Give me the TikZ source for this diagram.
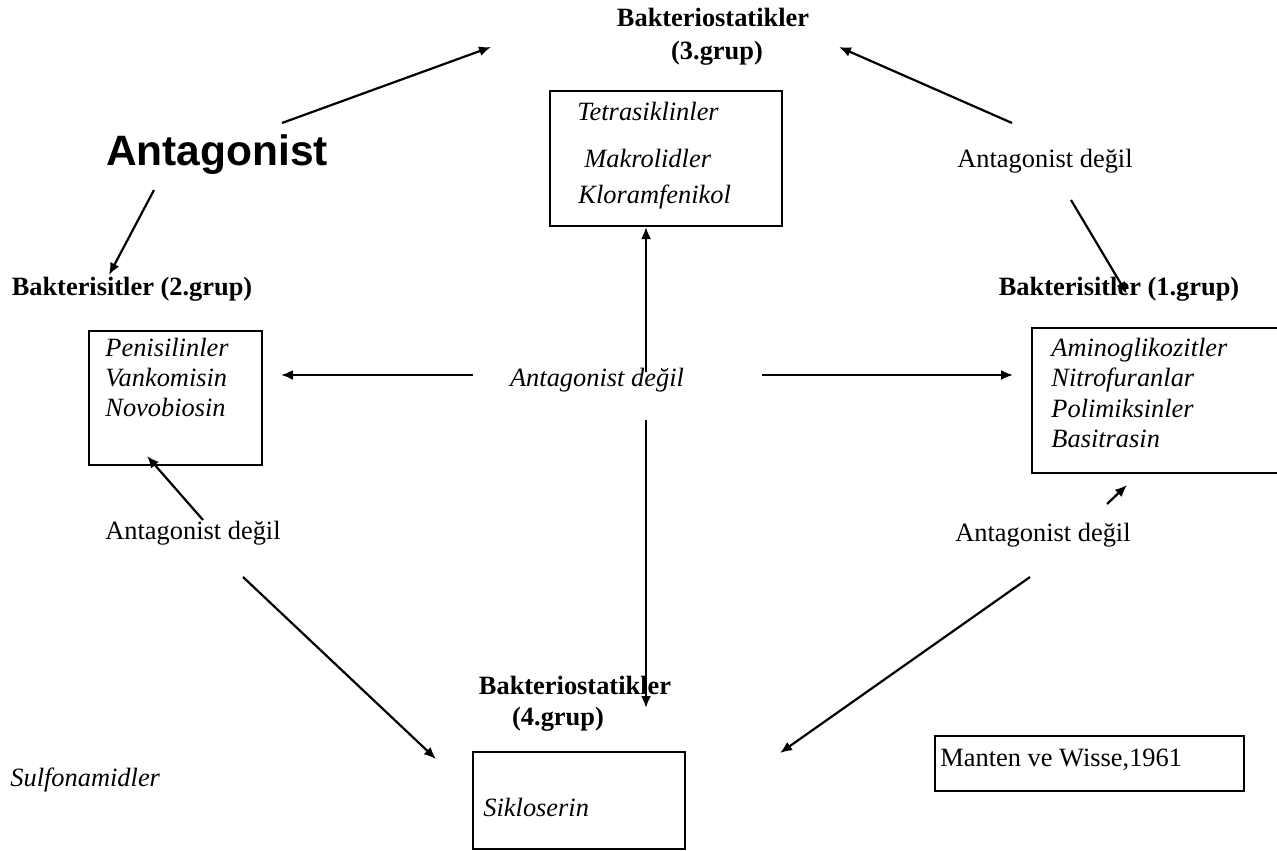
\documentclass[tikz,border=0pt]{standalone}
\usepackage{fontspec}
\setmainfont{Liberation Serif}
\setsansfont{Liberation Sans}
\usetikzlibrary{arrows.meta,fit}

\begin{document}
\begin{tikzpicture}[x=0.5pt, y=-0.5pt,
  yazi/.style={inner sep=0pt, anchor=mid, font=\fontsize{13.2}{16}\selectfont},
  baslik/.style={yazi, font=\fontsize{13.2}{16}\selectfont\bfseries},
  ilac/.style={yazi, anchor=mid west, font=\fontsize{13.2}{16}\selectfont\itshape},
  kutu/.style={draw, line width=1pt, inner sep=0pt},
  ok/.style={-{Latex[length=6pt,width=5pt]}, line width=1.1pt}]
\useasboundingbox (0,0) rectangle (1277,850);

% group boxes
\node[kutu, fit={(550,91) (782,226)}] (g3) {};
\node[kutu, fit={(89,331) (262,465)}] (g2) {};
\node[kutu, fit={(1032,328) (1290,473)}] (g1) {};
\node[kutu, fit={(473,752) (685,849)}] (g4) {};
\node[kutu, fit={(935,736) (1244,791)}] (kaynak) {};

% headings
\node[baslik] (b3) at (713,22) {Bakteriostatikler};
\node[baslik] (b3n) at (717,55) {(3.grup)};
\node[baslik] (b2) at (132,291) {Bakterisitler (2.grup)};
\node[baslik] (b1) at (1119,291) {Bakterisitler (1.grup)};
\node[baslik] (b4) at (575,690) {Bakteriostatikler};
\node[baslik] (b4n) at (558,721) {(4.grup)};
\node[yazi, font=\fontsize{21.25}{25}\sffamily\bfseries] (ant) at (217,161) {Antagonist};

% not antagonist labels
\node[yazi] (nr) at (1045,163) {Antagonist değil};
\node[yazi, font=\fontsize{13.2}{16}\selectfont\itshape] (nm) at (597,382) {Antagonist değil};
\node[yazi] (nl) at (193,535) {Antagonist değil};
\node[yazi] (nb) at (1043,537) {Antagonist değil};

% drugs
\node[ilac] (t1) at (577,116) {Tetrasiklinler};
\node[ilac] (t2) at (584,163) {Makrolidler};
\node[ilac] (t3) at (578,199) {Kloramfenikol};
\foreach \ad [count=\i] in {Penisilinler,Vankomisin,Novobiosin}
  \node[ilac] (p\i) at (105,{352+30*(\i-1)}) {\ad};
\foreach \ad [count=\i] in {Aminoglikozitler,Nitrofuranlar,Polimiksinler,Basitrasin}
  \node[ilac] (a\i) at (1051,{352+30.3*(\i-1)}) {\ad};
\node[ilac] (s1) at (483,812) {Sikloserin};
\node[ilac] (sulf) at (10,782) {Sulfonamidler};
\node[yazi, anchor=mid west] (mw) at (940,762) {Manten ve Wisse,1961};

% arrow ends
\coordinate (ant-u) at (282,123);   \coordinate (b3-l) at (491,47);
\coordinate (ant-d) at (154,190);   \coordinate (b2-u) at (109,275);
\coordinate (nr-u) at (1012,123);   \coordinate (b3-r) at (839,47);
\coordinate (nr-d) at (1071,200);   \coordinate (b1-u) at (1127,294);
\coordinate (nm-l) at (473,375);    \coordinate (g2-r) at (281,375);
\coordinate (nm-r) at (762,375);    \coordinate (g1-l) at (1013,375);
\coordinate (nm-u) at (646,372);    \coordinate (g3-d) at (646,227);
\coordinate (nm-d) at (646,420);    \coordinate (b4-u) at (646,708);
\coordinate (nl-u) at (203,520);    \coordinate (g2-d) at (147,456);
\coordinate (nl-d) at (243,577);    \coordinate (g4-l) at (436,759);
\coordinate (nb-u) at (1107,504);   \coordinate (g1-d) at (1127,485);
\coordinate (nb-d) at (1030,577);   \coordinate (g4-r) at (780,753);

\draw[ok] (ant-u) -- (b3-l);
\draw[ok] (ant-d) -- (b2-u);
\draw[ok] (nr-u) -- (b3-r);
\draw[ok] (nr-d) -- (b1-u);
\draw[ok] (nm-l) -- (g2-r);
\draw[ok] (nm-r) -- (g1-l);
\draw[ok] (nm-u) -- (g3-d);
\draw[ok] (nm-d) -- (b4-u);
\draw[ok] (nl-u) -- (g2-d);
\draw[ok] (nl-d) -- (g4-l);
\draw[ok] (nb-u) -- (g1-d);
\draw[ok] (nb-d) -- (g4-r);
\end{tikzpicture}
\end{document}
